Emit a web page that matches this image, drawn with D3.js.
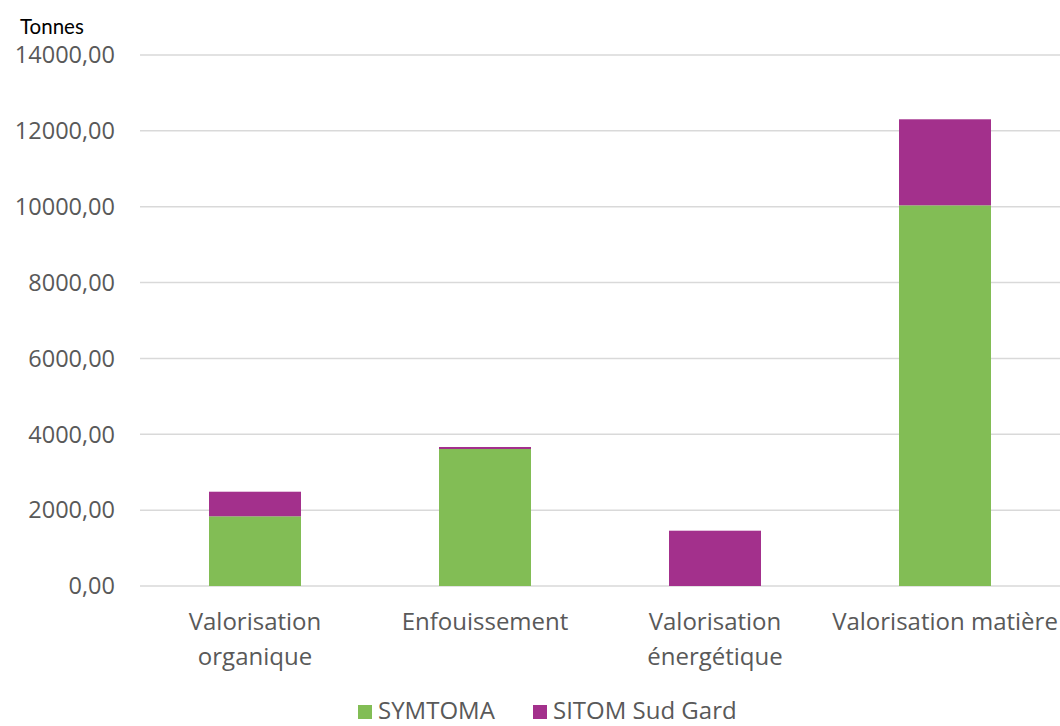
<!DOCTYPE html>
<html><head><meta charset="utf-8">
<script src="https://cdn.jsdelivr.net/npm/d3@7"></script>
<style>body{margin:0;background:#fff}</style>
</head><body>
<svg id="c" width="1060" height="726"></svg>
<script>
const categories = [["Valorisation","organique"],["Enfouissement"],["Valorisation","énergétique"],["Valorisation matière"]];
const seriesNames = ["SYMTOMA","SITOM Sud Gard"];
const symtoma = [1838, 3612, 0, 10037];
const sitom = [648, 53, 1458, 2268];
const yTicks = [0,2000,4000,6000,8000,10000,12000,14000];
const colors = ["#82bd55","#a3308c"];

const svg = d3.select("#c");
const font = "'Open Sans', sans-serif";
const x = d3.scaleBand().domain(d3.range(categories.length)).range([140,1060]).paddingInner(0.6).paddingOuter(0.3);
const y = d3.scaleLinear().domain([0,14000]).range([586,55]);

svg.append("g").selectAll("line").data(yTicks).join("line")
  .attr("x1",140).attr("x2",1060).attr("y1",d=>y(d)).attr("y2",d=>y(d))
  .attr("stroke","#d9d9d9").attr("stroke-width",1.5);

svg.append("g").selectAll("text").data(yTicks).join("text")
  .attr("x",115).attr("y",d=>y(d)).attr("dy","0.35em").attr("text-anchor","end")
  .attr("font-family",font).attr("font-size",23.5).attr("fill","#595959")
  .text(d=>d3.format(".2f")(d).replace(".",","));

svg.append("text").attr("x",20).attr("y",34).attr("font-family","Lato, sans-serif").attr("font-size",20.5).attr("fill","#000").text("Tonnes");

const stackData = categories.map((c,i)=>({i, s0:symtoma[i], s1:sitom[i]}));
const stack = d3.stack().keys(["s0","s1"])(stackData);
svg.append("g").selectAll("g").data(stack).join("g").attr("fill",(d,k)=>colors[k])
  .selectAll("rect").data(d=>d).join("rect")
  .attr("x",d=>x(d.data.i)).attr("width",x.bandwidth())
  .attr("y",d=>y(d[1])).attr("height",d=>y(d[0])-y(d[1]));

const cl = svg.append("g").selectAll("text").data(categories).join("text")
  .attr("text-anchor","middle").attr("font-family",font).attr("font-size",24).attr("fill","#595959")
  .attr("transform",(d,i)=>`translate(${x(i)+x.bandwidth()/2},630)`);
cl.selectAll("tspan").data(d=>d).join("tspan").attr("x",0).attr("dy",(d,j)=>j===0?0:35).text(d=>d);

const leg = svg.append("g");
const lx = [358, 533];
seriesNames.forEach((n,k)=>{
  leg.append("rect").attr("x",lx[k]).attr("y",705).attr("width",14).attr("height",14).attr("fill",colors[k]);
  leg.append("text").attr("x",lx[k]+20).attr("y",719).attr("font-family",font).attr("font-size",24).attr("fill","#595959").text(n);
});
</script>
</body></html>
